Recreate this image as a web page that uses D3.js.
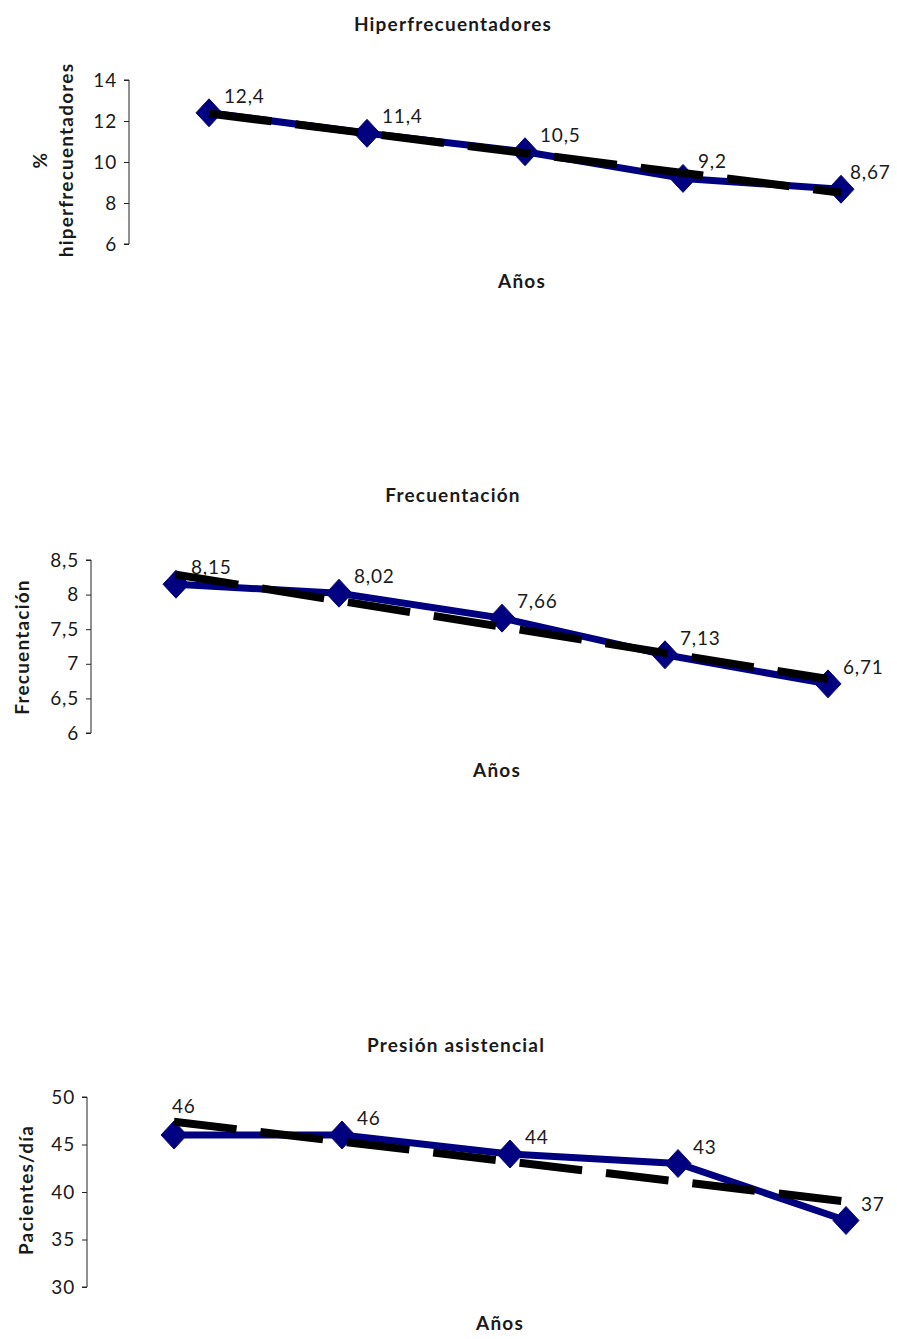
<!DOCTYPE html>
<html><head><meta charset="utf-8">
<script src="https://cdn.jsdelivr.net/npm/d3@7"></script>
<style>
body{margin:0;background:#fff;}
svg text{font-family:Lato,"Open Sans",sans-serif;fill:#1a1a1a;}
</style></head>
<body><svg id="c" width="897" height="1339"></svg>
<script>
// ---- data ----
const categories = ["1", "2", "3", "4", "5"];
const hiperValues = [12.4, 11.4, 10.5, 9.2, 8.67];
const hiperTicks = [6, 8, 10, 12, 14];
const frecValues = [8.15, 8.02, 7.66, 7.13, 6.71];
const frecTicks = [6, 6.5, 7, 7.5, 8, 8.5];
const presValues = [46, 46, 44, 43, 37];
const presTicks = [30, 35, 40, 45, 50];

const fmt = v => String(v).replace(".", ",");
const svg = d3.select("#c");

function linreg(vals){
  const xs = vals.map((_, i) => i + 1);
  const mx = d3.mean(xs), my = d3.mean(vals);
  let sxy = 0, sxx = 0;
  xs.forEach((x, i) => { sxy += (x - mx) * (vals[i] - my); sxx += (x - mx) * (x - mx); });
  const b = sxy / sxx, a = my - b * mx;
  return xs.map(x => a + b * x);
}

function boldText(sel){
  return sel.style("font-weight", "bold").style("font-size", "19px").style("letter-spacing", "1.2px");
}

function drawChart(cfg){
  const g = svg.append("g");
  const x = d3.scalePoint().domain(categories).range(cfg.xRange);
  const y = d3.scaleLinear().domain(d3.extent(cfg.ticks)).range([cfg.yBottom, cfg.yTop]);

  boldText(g.append("text").attr("x", cfg.titleX).attr("y", cfg.titleY)
    .attr("text-anchor", "middle").attr("dominant-baseline", "middle")).text(cfg.title);

  const ax = g.append("g").attr("transform", `translate(${cfg.axisX},0)`)
    .call(d3.axisLeft(y).tickValues(cfg.ticks).tickFormat(fmt).tickSize(5).tickPadding(7));
  ax.select(".domain").attr("stroke", "#222").attr("d", `M-5,${cfg.yBottom}H0V${cfg.yTop}H-5`);
  ax.selectAll(".tick line").attr("stroke", "#222");
  ax.selectAll(".tick text").style("font-size", "19px").style("letter-spacing", "0.8px")
    .attr("fill", "#1a1a1a").style("font-family", "Lato,sans-serif");

  boldText(g.append("text").attr("x", cfg.xLabelX).attr("y", cfg.xLabelY)
    .attr("text-anchor", "middle").attr("dominant-baseline", "middle")).text("Años");

  const yl = boldText(g.append("text").attr("transform", `translate(${cfg.yLabelX},${cfg.yLabelY}) rotate(-90)`)
    .attr("text-anchor", "middle"));
  cfg.yLabel.forEach((t, i) => {
    yl.append("tspan").attr("x", 0).attr("dy", i === 0 ? "0px" : "26px").text(t);
  });

  const pts = cfg.values.map((v, i) => [x(categories[i]), y(v)]);
  g.append("path").attr("d", d3.line()(pts)).attr("fill", "none")
    .attr("stroke", "#000080").attr("stroke-width", 7).attr("stroke-linejoin", "round");

  g.selectAll(".mk").data(pts).enter().append("path")
    .attr("d", d => `M${d[0] - 13},${d[1]}L${d[0]},${d[1] - 14}L${d[0] + 13},${d[1]}L${d[0]},${d[1] + 14}Z`)
    .attr("fill", "#000080").attr("stroke", "#0a0a70").attr("stroke-width", 1);

  const tr = linreg(cfg.values).map((v, i) => [x(categories[i]), y(v)]);
  g.append("path").attr("d", d3.line()([tr[0], tr[tr.length - 1]])).attr("fill", "none")
    .attr("stroke", "#000").attr("stroke-width", 8).attr("stroke-dasharray", "63,24");

  g.selectAll(".lb").data(cfg.values).enter().append("text")
    .attr("x", (d, i) => pts[i][0] + 15 + (cfg.lblDx ? cfg.lblDx[i] : 0))
    .attr("y", (d, i) => pts[i][1] - 10 + (cfg.lblDy ? cfg.lblDy[i] : 0))
    .style("font-size", "19px").style("letter-spacing", "0.8px").text(d => fmt(d));
}

drawChart({title: "Hiperfrecuentadores", titleX: 453, titleY: 26, values: hiperValues, ticks: hiperTicks,
  xRange: [209, 841], yTop: 80, yBottom: 244, axisX: 129, xLabelX: 522, xLabelY: 283,
  yLabel: ["%", "hiperfrecuentadores"], yLabelX: 47, yLabelY: 160,
  lblDx: [0, 0, 0, 0, -6], lblDy: [0, 0, 0, 0, 0]});
drawChart({title: "Frecuentación", titleX: 453, titleY: 497, values: frecValues, ticks: frecTicks,
  xRange: [176, 828], yTop: 560, yBottom: 733, axisX: 91, xLabelX: 497, xLabelY: 772,
  yLabel: ["Frecuentación"], yLabelX: 29, yLabelY: 647});
drawChart({title: "Presión asistencial", titleX: 456, titleY: 1047, values: presValues, ticks: presTicks,
  xRange: [174, 846], yTop: 1097, yBottom: 1287, axisX: 87, xLabelX: 500, xLabelY: 1325,
  yLabel: ["Pacientes/día"], yLabelX: 33, yLabelY: 1190,
  lblDx: [-17, 0, 0, 0, 0], lblDy: [-12, 0, 0, 0, 0]});
</script></body></html>
